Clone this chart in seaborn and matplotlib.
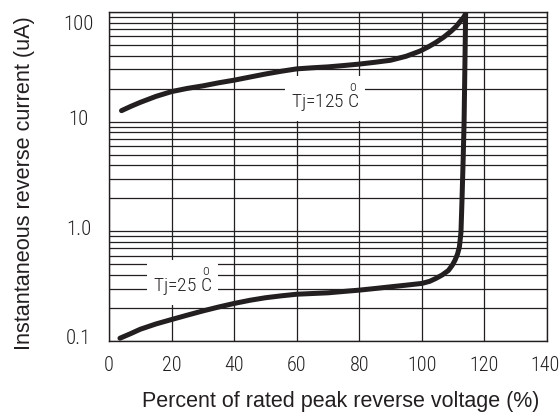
import matplotlib
matplotlib.use("Agg")
import matplotlib.pyplot as plt
import matplotlib.transforms as mtrans
from matplotlib import font_manager as fm
import seaborn as sns
import pandas as pd
import numpy as np
from matplotlib.ticker import LogLocator, NullFormatter, FixedLocator

# ---- data ----
x_125 = [4, 7, 10, 15, 20, 25, 30, 35, 40, 45, 50, 55, 60, 65, 70, 75, 80, 85, 90, 95, 99.4, 102, 104.4, 107, 109.4, 111, 112.4, 113.3, 113.9, 114.0]
y_125 = [12.6, 13.8, 15.0, 17.0, 18.8, 20.1, 21.2, 22.6, 23.9, 25.5, 27.2, 28.8, 30.3, 31.0, 31.6, 32.5, 33.5, 34.8, 36.3, 39.5, 44, 48, 52.6, 59, 67, 74, 83, 89, 95, 100]
x_25 = [3.5, 7, 10, 15, 20, 25, 30, 35, 40, 45, 50, 55, 60, 65, 70, 75, 80, 85, 90, 95, 100, 102.5, 104.4, 106.5, 108.5, 109.7, 110.6, 111.4, 112.0, 112.5, 112.8, 113.2, 113.5, 114.0]
y_25 = [0.106, 0.117, 0.128, 0.143, 0.157, 0.172, 0.188, 0.204, 0.22, 0.235, 0.248, 0.258, 0.267, 0.271, 0.275, 0.283, 0.291, 0.301, 0.312, 0.323, 0.335, 0.35, 0.371, 0.40, 0.44, 0.49, 0.545, 0.62, 0.72, 0.98, 1.8, 4.5, 10, 100]
x_ticks = [0, 20, 40, 60, 80, 100, 120, 140]
y_ticks = [0.1, 1, 10, 100]
y_tick_labels = ["0.1", "1.0", "10", "100"]
label_125 = "Tj=125"
label_25 = "Tj=25"

df = pd.concat([
    pd.DataFrame({"x": x_125, "y": y_125, "curve": "125"}),
    pd.DataFrame({"x": x_25, "y": y_25, "curve": "25"}),
])

installed = {f.name for f in fm.fontManager.ttflist}
narrow_pref = ["Myriad Pro Cond", "Roboto Condensed", "Fira Sans Condensed",
               "IBM Plex Sans Condensed", "Asap Condensed", "PT Sans Narrow",
               "Archivo Narrow", "Open Sans Condensed", "Roboto"]
NARROW_NAME = next((n for n in narrow_pref if n in installed), "DejaVu Sans")
NARROW = [NARROW_NAME, "DejaVu Sans"]

sns.set_style("white")
plt.rcParams["font.family"] = ["Liberation Sans", "DejaVu Sans"]
plt.rcParams["mathtext.fontset"] = "custom"
plt.rcParams["mathtext.rm"] = NARROW_NAME + ":light"

INK = "#231f20"
fig = plt.figure(figsize=(5.6, 4.13), dpi=100)
ax = fig.add_axes([109/560, 1-341/413, (547-109)/560, (341-12)/413])

sns.lineplot(data=df, x="x", y="y", units="curve", estimator=None, sort=False,
             color=INK, lw=3.6, ax=ax, legend=False, zorder=5)

ax.set_yscale("log")
ax.set_xlim(0, 140)
ax.set_ylim(0.1, 100)
ax.xaxis.set_major_locator(FixedLocator(x_ticks))
ax.yaxis.set_major_locator(FixedLocator(y_ticks))
ax.yaxis.set_minor_locator(LogLocator(base=10, subs=np.arange(2, 10)))
ax.yaxis.set_minor_formatter(NullFormatter())
ax.set_xticklabels([str(v) for v in x_ticks], family=NARROW, fontsize=14.5, color=INK, fontweight="light")
ax.set_yticklabels(y_tick_labels, family=NARROW, fontsize=15, color=INK, fontweight="light")
ax.grid(True, which="both", axis="y", color=INK, lw=0.9)
ax.grid(True, which="major", axis="x", color=INK, lw=0.9)
ax.tick_params(axis="both", which="both", length=0)
ax.tick_params(axis="x", pad=11)
ax.tick_params(axis="y", pad=16)
for lab in ax.get_yticklabels():
    lab.set_horizontalalignment("center")
    lab.set_transform(lab.get_transform() + mtrans.ScaledTranslation(-8/100, 4/100, fig.dpi_scale_trans))
ax.get_yticklabels()[-1].set_transform(ax.get_yticklabels()[-1].get_transform() + mtrans.ScaledTranslation(0, -14/100, fig.dpi_scale_trans))
# keep the last x label inside the canvas
ax.get_xticklabels()[-1].set_transform(ax.get_xticklabels()[-1].get_transform() + mtrans.ScaledTranslation(-2/100, 0, fig.dpi_scale_trans))
for s in ax.spines.values():
    s.set_color(INK)
    s.set_linewidth(1.0)

bb = dict(boxstyle="square,pad=0.3", fc="white", ec="none")
deg_c = r" $\overset{\mathrm{o}}{\mathrm{C}}$"
ax.text(69, 16.3, label_125 + deg_c, ha="center", va="center",
        fontsize=14, family=NARROW, color=INK, bbox=bb, zorder=4, fontweight="light")
ax.text(23.6, 0.342, label_25 + deg_c, ha="center", va="center",
        fontsize=14, family=NARROW, color=INK, bbox=bb, zorder=4, fontweight="light")

ax.set_xlabel("Percent of rated peak reverse voltage (%)", fontsize=15.5, color=INK)
ax.xaxis.set_label_coords((341-109)/(547-109), (341-391)/(341-12))
ax.set_ylabel("Instantaneous reverse current (uA)", fontsize=15.6, color=INK)
ax.yaxis.set_label_coords((35-109)/(547-109), (341-183)/(341-12))

fig.savefig("out.png", dpi=100)
